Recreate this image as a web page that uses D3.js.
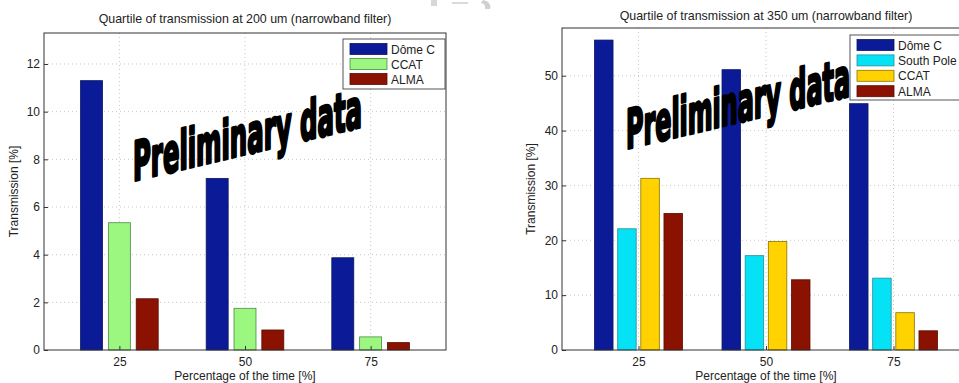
<!DOCTYPE html>
<html lang="en">
<head>
<meta charset="UTF-8">
<title>Quartile of transmission</title>
<script src="https://d3js.org/d3.v7.min.js"></script>
<style>
    body { margin: 0; background: #fff; }
    svg { display: block; font-family: "Liberation Sans", Arial, sans-serif; }
    .grid line { stroke: #c8c8c8; stroke-dasharray: 1,3; }
    .lbl { fill: #222; }
</style>
</head>
<body>
<svg width="959" height="383"></svg>
<script>
// time percentages on the x axis
const categories = [25, 50, 75];
const xTicks = [25, 50, 75];

// 200 um chart
const series200 = ["Dôme C", "CCAT", "ALMA"];
const domeC200 = [11.3, 7.2, 3.87];
const ccat200 = [5.34, 1.75, 0.55];
const alma200 = [2.15, 0.84, 0.31];
const yTicks200 = [0, 2, 4, 6, 8, 10, 12];

// 350 um chart
const series350 = ["Dôme C", "South Pole", "CCAT", "ALMA"];
const domeC350 = [56.5, 51.1, 44.9];
const southPole350 = [22.1, 17.2, 13.1];
const ccat350 = [31.3, 19.8, 6.8];
const alma350 = [24.9, 12.8, 3.5];
const yTicks350 = [0, 10, 20, 30, 40, 50];

const colors = {
    "Dôme C": "#0b1b98",
    "South Pole": "#05e1f5",
    "ALMA": "#8b1200"
};

const svg = d3.select("svg");

function drawChart(o) {
    const g = svg.append("g");
    const x = d3.scaleLinear().domain([10, 90]).range([o.left, o.right]);
    const y = d3.scaleLinear().domain([0, o.yMax]).range([o.bottom, o.top]);

    // grid
    const grid = g.append("g").attr("class", "grid");
    grid.selectAll(".gy").data(o.yTicks.filter(d => d > 0)).enter().append("line")
        .attr("x1", o.left).attr("x2", o.right)
        .attr("y1", d => y(d)).attr("y2", d => y(d));
    grid.selectAll(".gx").data(xTicks).enter().append("line")
        .attr("x1", d => x(d)).attr("x2", d => x(d))
        .attr("y1", o.top).attr("y2", o.bottom);

    // bars
    const inner = d3.scaleBand().domain(o.series).range([-o.groupW / 2, o.groupW / 2]).paddingInner(o.pad);
    o.series.forEach((s, si) => {
        g.append("g").selectAll("rect").data(o.values[si]).enter().append("rect")
            .attr("x", (d, i) => x(categories[i] + inner(s)))
            .attr("width", x(inner.bandwidth()) - x(0))
            .attr("y", d => y(d))
            .attr("height", d => y(0) - y(d))
            .attr("fill", o.colors[si])
            .attr("stroke", o.edges[si])
            .attr("stroke-width", 0.8);
    });

    // axes box
    g.append("rect").attr("x", o.left).attr("y", o.top)
        .attr("width", o.right - o.left).attr("height", o.bottom - o.top)
        .attr("fill", "none").attr("stroke", "#333").attr("stroke-width", 1);

    // ticks
    const yAxis = d3.axisLeft(y).tickValues(o.yTicks).tickSize(-4).tickPadding(4);
    g.append("g").attr("transform", `translate(${o.left},0)`).call(yAxis)
        .call(a => a.select(".domain").remove())
        .call(a => a.selectAll("line").attr("stroke", "#333"))
        .call(a => a.selectAll("text").attr("class", "lbl").attr("font-size", 12).attr("font-family", null));
    const xAxis = d3.axisBottom(x).tickValues(xTicks).tickSize(-4).tickPadding(7);
    g.append("g").attr("transform", `translate(0,${o.bottom})`).call(xAxis)
        .call(a => a.select(".domain").remove())
        .call(a => a.selectAll("line").attr("stroke", "#333"))
        .call(a => a.selectAll("text").attr("class", "lbl").attr("font-size", 12).attr("font-family", null));

    // labels
    g.append("text").attr("class", "lbl").attr("x", o.titleX).attr("y", o.titleY)
        .attr("text-anchor", "middle").attr("font-size", 12.4).text(o.title);
    g.append("text").attr("class", "lbl").attr("x", o.titleX).attr("y", 379.5)
        .attr("text-anchor", "middle").attr("font-size", 12).text("Percentage of the time [%]");
    g.append("text").attr("class", "lbl")
        .attr("transform", `translate(${o.yLabelX},${(o.top + o.bottom) / 2}) rotate(-90)`)
        .attr("text-anchor", "middle").attr("font-size", 12).text("Transmission [%]");

    // legend
    const lg = g.append("g");
    lg.append("rect").attr("x", o.leg.x).attr("y", o.leg.y)
        .attr("width", o.leg.w).attr("height", o.leg.h)
        .attr("fill", "#fff").attr("stroke", "#555").attr("stroke-width", 1);
    o.series.forEach((s, si) => {
        const cy = o.leg.y + 10 + si * o.leg.step;
        lg.append("rect").attr("x", o.leg.x + 7).attr("y", cy - 5.5)
            .attr("width", 37).attr("height", 11)
            .attr("fill", o.colors[si]).attr("stroke", o.edges[si]).attr("stroke-width", 0.8);
        lg.append("text").attr("class", "lbl").attr("x", o.leg.x + 48).attr("y", cy + 4.5)
            .attr("font-size", 12).text(s);
    });

    // watermark, drawn over everything
    g.append("text")
        .attr("transform", `translate(${o.wm[0]},${o.wm[1]}) skewY(-13.3)`)
        .attr("font-family", "DejaVu Sans Condensed, DejaVu Sans")
        .attr("font-weight", "bold").attr("font-size", 54)
        .attr("textLength", o.wm[2]).attr("lengthAdjust", "spacingAndGlyphs")
        .attr("fill", "#000").attr("stroke", "#000").attr("stroke-width", 3)
        .attr("stroke-linejoin", "round")
        .text("Preliminary data");
}

drawChart({
    left: 44, right: 446, top: 33, bottom: 350, yMax: 13.3,
    yTicks: yTicks200,
    series: series200,
    values: [domeC200, ccat200, alma200],
    colors: [colors["Dôme C"], "#9bf77f", colors["ALMA"]],
    edges: ["#0a1660", "#4e8a44", "#5a0c00"],
    groupW: 15.45, pad: 0.21,
    title: "Quartile of transmission at 200 um (narrowband filter)",
    titleX: 245, titleY: 23, yLabelX: 18,
    wm: [133, 181, 229],
    leg: { x: 343, y: 39, w: 102, h: 50, step: 15 }
});

drawChart({
    left: 562, right: 970, top: 28, bottom: 350, yMax: 58.7,
    yTicks: yTicks350,
    series: series350,
    values: [domeC350, southPole350, ccat350, alma350],
    colors: [colors["Dôme C"], colors["South Pole"], "#ffd200", colors["ALMA"]],
    edges: ["#0a1660", "#2a8c99", "#8a7400", "#5a0c00"],
    groupW: 17.25, pad: 0.2,
    title: "Quartile of transmission at 350 um (narrowband filter)",
    titleX: 766, titleY: 20, yLabelX: 535,
    wm: [626, 149, 224],
    leg: { x: 850, y: 35, w: 130, h: 65, step: 15.4 }
});

// faint grey scraps at the top edge of the screenshot
svg.append("path").attr("d", "M431,0 L437,0 L437,6 L431,6 Z").attr("fill", "#d8d8d8");
svg.append("path").attr("d", "M452,3 L468,3").attr("stroke", "#cfcfcf").attr("stroke-width", 1.5);
svg.append("path").attr("d", "M483,0 Q492,2 490,9 L485,9 Q486,4 481,3 Z").attr("fill", "#d0d0d0");
</script>
</body>
</html>
